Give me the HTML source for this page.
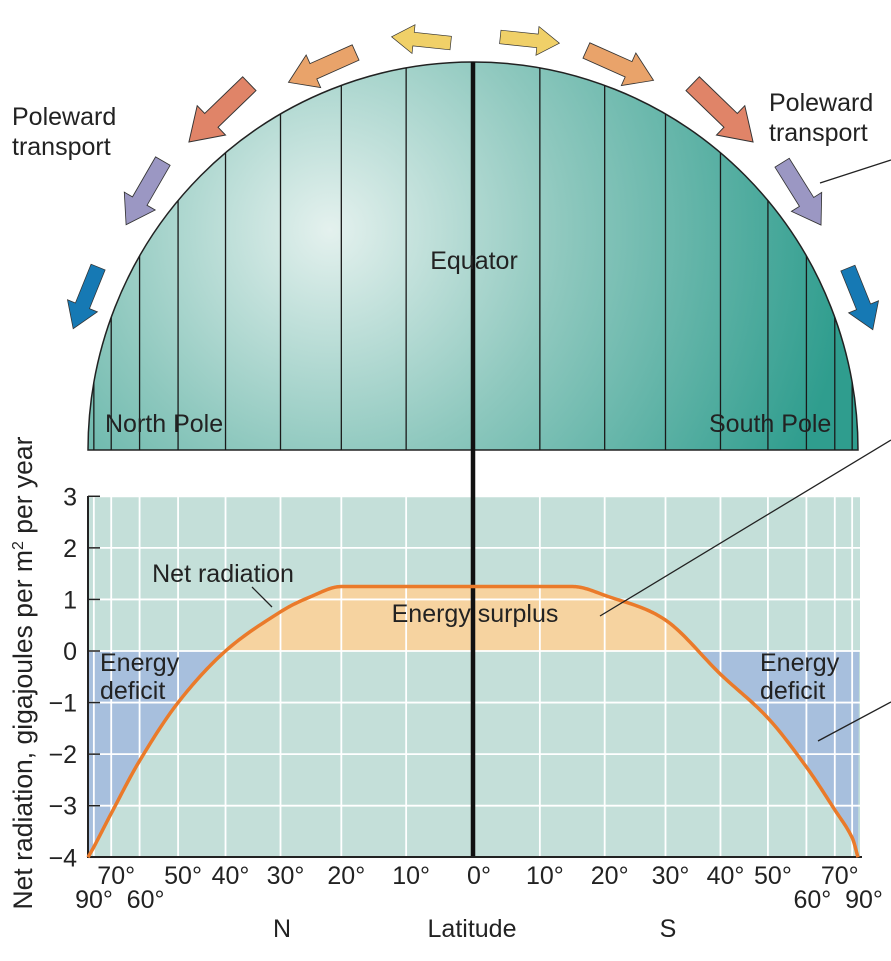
<!DOCTYPE html>
<html><head><meta charset="utf-8"><style>
html,body{margin:0;padding:0;background:#fff;}
svg{display:block;font-family:"Liberation Sans",Arial,sans-serif;}
</style></head><body>
<svg id="fig" width="891" height="961" viewBox="0 0 891 961">
<defs>
<radialGradient id="glob" cx="330" cy="230" r="520" gradientUnits="userSpaceOnUse">
<stop offset="0" stop-color="#e4f1ee"/>
<stop offset="0.45" stop-color="#8ec8be"/>
<stop offset="1" stop-color="#2f9d8e"/>
</radialGradient>
</defs>
<g id="globe"></g>
<g id="arrows"></g>
<g id="chart"></g>
<text x="12" y="125" font-size="25" fill="#222">Poleward</text>
<text x="12" y="155" font-size="25" fill="#222">transport</text>
<text x="769" y="111" font-size="25" fill="#222">Poleward</text>
<text x="769" y="141" font-size="25" fill="#222">transport</text>
<line x1="820" y1="183" x2="891" y2="160" stroke="#222" stroke-width="1.3"/>
<line x1="600" y1="616" x2="891" y2="440" stroke="#222" stroke-width="1.3"/>
<line x1="818" y1="741" x2="891" y2="702" stroke="#222" stroke-width="1.3"/>
<text x="474" y="269" font-size="25" fill="#222" text-anchor="middle">Equator</text>
<text x="105" y="432" font-size="25" fill="#222">North Pole</text>
<text x="709" y="432" font-size="25" fill="#222">South Pole</text>
<text transform="translate(32,673) rotate(-90)" font-size="26.5" fill="#222" text-anchor="middle">Net radiation, gigajoules per m<tspan font-size="16" dy="-9">2</tspan><tspan dy="9"> per year</tspan></text>
<text x="282" y="937" font-size="25" fill="#222" text-anchor="middle">N</text>
<text x="472" y="937" font-size="25" fill="#222" text-anchor="middle">Latitude</text>
<text x="668" y="937" font-size="25" fill="#222" text-anchor="middle">S</text>
</svg>
<script>
// data (latitude signed: north negative, south positive)
const lats = [-90,-80,-70,-60,-50,-40,-30,-25,-20,-10,0,10,15,20,30,40,50,60,70,80,90];
const vals = [-4,-3.8,-3.15,-2.13,-1.0,0,0.76,1.05,1.25,1.25,1.25,1.25,1.25,1.08,0.6,-0.45,-1.3,-2.25,-3.08,-3.62,-4];
const yTicks = [3,2,1,0,-1,-2,-3,-4];
const gridLats = [0,10,20,30,40,50,60,70,80];
const xLabelsTop = [70,50,40,30,20,10];
const xLabelsBottom = [90,60];

const NS='http://www.w3.org/2000/svg';
function mk(tag,attrs,parent){const e=document.createElementNS(NS,tag);for(const k in attrs)e.setAttribute(k,attrs[k]);parent.appendChild(e);return e;}
const cx=473, half=385, y0=651, unit=51.57, yTop=496, yBot=857;
function xLat(l){return cx+half*Math.sin(l*Math.PI/180);}
function xN(l){return xLat(-l);}
function xS(l){return xLat(l);}
function yv(v){return y0-v*unit;}

// cubic Hermite with central-difference tangents (flat where a neighbour segment is flat)
function interp(){
  const X=lats.map(xLat), Y=vals.map(yv);
  const n=X.length, d=[], m=[];
  for(let i=0;i<n-1;i++)d.push((Y[i+1]-Y[i])/(X[i+1]-X[i]));
  m[0]=d[0];m[n-1]=d[n-2];
  for(let i=1;i<n-1;i++){
    if(d[i-1]===0||d[i]===0||d[i-1]*d[i]<0)m[i]=0;
    else m[i]=(Y[i+1]-Y[i-1])/(X[i+1]-X[i-1]);
  }
  const pts=[];
  for(let i=0;i<n-1;i++){const h=X[i+1]-X[i];
    for(let k=0;k<20;k++){const t=k/20,t2=t*t,t3=t2*t;
      const v=(2*t3-3*t2+1)*Y[i]+(t3-2*t2+t)*h*m[i]+(-2*t3+3*t2)*Y[i+1]+(t3-t2)*h*m[i+1];
      pts.push([X[i]+t*h,v]);}}
  pts.push([X[n-1],Y[n-1]]);
  return pts;
}
const pts=interp();
const curveD='M'+pts.map(p=>p[0].toFixed(2)+','+p[1].toFixed(2)).join(' L');

// globe
const globe=document.getElementById('globe');
const gp=mk('path',{d:`M88,450 A385,388 0 0 1 858,450 Z`,fill:'url(#glob)',stroke:'#222','stroke-width':1.5},globe);


for(const l of gridLats.slice(1)){
  for(const x of [xN(l),xS(l)]){
    const dx=(x-cx)/385; const yt=450-388*Math.sqrt(Math.max(0,1-dx*dx));
    const m=mk('line',{x1:x,y1:yt,x2:x,y2:450,stroke:'#1a1a1a','stroke-width':1.3},globe);
    
    
  }
}
// arrows: x, y, svg angle, scale, colour
const arrowsG=document.getElementById('arrows');
const arrowDefs=[[422,40,186,0.85,'#f0d068'],[529,40,6,0.85,'#f0d068'],[323,67,156,1.05,'#e9a36a'],[619,65,24,1.05,'#e9a36a'],
[220,112,136,1.2,'#e08468'],[722,112,44,1.2,'#e08468'],[145,192,120,1.05,'#9b97c3'],[801,193,58,1.05,'#9b97c3'],[86,297,112,0.95,'#1679b4'],[860,298,68,0.95,'#1679b4']];
for(const a of arrowDefs){
  const p=mk('path',{d:'M-34,-8 L10,-8 L10,-17 L36,0 L10,17 L10,8 L-34,8 Z',fill:a[4],stroke:'#333','stroke-width':0.8,
    transform:`translate(${a[0]},${a[1]}) rotate(${a[2]}) scale(${a[3]})`},arrowsG);
  
  
}

// chart
const ch=document.getElementById('chart');
const bg=mk('rect',{x:88,y:yTop,width:860-88,height:yBot-yTop,fill:'#c4dfd9'},ch);


const defs=document.querySelector('defs');
const cpA=mk('clipPath',{id:'above'},defs);mk('path',{d:curveD+` L860,${yBot+5} L88,${yBot+5} Z`},cpA);
const cpB=mk('clipPath',{id:'below'},defs);mk('path',{d:curveD+` L860,${yTop} L88,${yTop} Z`},cpB);
const sur=mk('rect',{x:88,y:yTop,width:772,height:y0-yTop,fill:'#f6d3a0','clip-path':'url(#above)'},ch);


const def=mk('rect',{x:88,y:y0,width:772,height:yBot-y0,fill:'#a7bfdd','clip-path':'url(#below)'},ch);


for(const l of gridLats){for(const x of [xN(l),xS(l)]){
  const g=mk('line',{x1:x,y1:yTop,x2:x,y2:yBot,stroke:'#fff','stroke-width':1.8},ch);
  
  }}
for(const t of yTicks){
  const g=mk('line',{x1:88,y1:yv(t),x2:860,y2:yv(t),stroke:'#fff','stroke-width':1.8},ch);
  
  
  const tk=mk('line',{x1:88,y1:yv(t),x2:100,y2:yv(t),stroke:'#222','stroke-width':1.5},ch);
  
  
  const tx=mk('text',{x:77,y:yv(t)+9,'font-size':25,'text-anchor':'end',fill:'#222'},ch);
  tx.textContent=t<0?'\u2212'+(-t):String(t);
  
  
}
const eq=mk('line',{x1:cx,y1:62,x2:cx,y2:yBot,stroke:'#111','stroke-width':4.5},ch);


const ax=mk('path',{d:`M88,${yTop} L88,${yBot} L862,${yBot}`,fill:'none',stroke:'#222','stroke-width':2},ch);


const cv=mk('path',{d:curveD,fill:'none',stroke:'#ea7a2a','stroke-width':3.5,'stroke-linejoin':'round'},ch);


function lbl(x,y,s,name){const t=mk('text',{x:x,y:y,'font-size':25,'text-anchor':'middle',fill:'#222'},ch);t.textContent=s;
 
 }
for(const l of xLabelsTop){lbl(xN(l)+5,884,l+'\u00b0','x-tick-label-north');lbl(xS(l)+5,884,l+'\u00b0','x-tick-label-south');}
lbl(cx+6,884,'0\u00b0','x-tick-label-equator');
for(const l of xLabelsBottom){lbl(xN(l)+6,908,l+'\u00b0','x-tick-label-north');lbl(xS(l)+6,908,l+'\u00b0','x-tick-label-south');}
lbl(223,582,'Net radiation','net-radiation-label');
const ld=mk('line',{x1:252,y1:587,x2:272,y2:607,stroke:'#222','stroke-width':1.3},ch);


lbl(475,622,'Energy surplus','energy-surplus-label');
function lt(x,y,s,name){const t=mk('text',{x:x,y:y,'font-size':25,fill:'#222'},ch);t.textContent=s;
 
 }
lt(100,671,'Energy','energy-deficit-label-north');lt(100,699,'deficit','energy-deficit-label-north-2');
lt(760,671,'Energy','energy-deficit-label-south');lt(760,699,'deficit','energy-deficit-label-south-2');
</script>
</body></html>
